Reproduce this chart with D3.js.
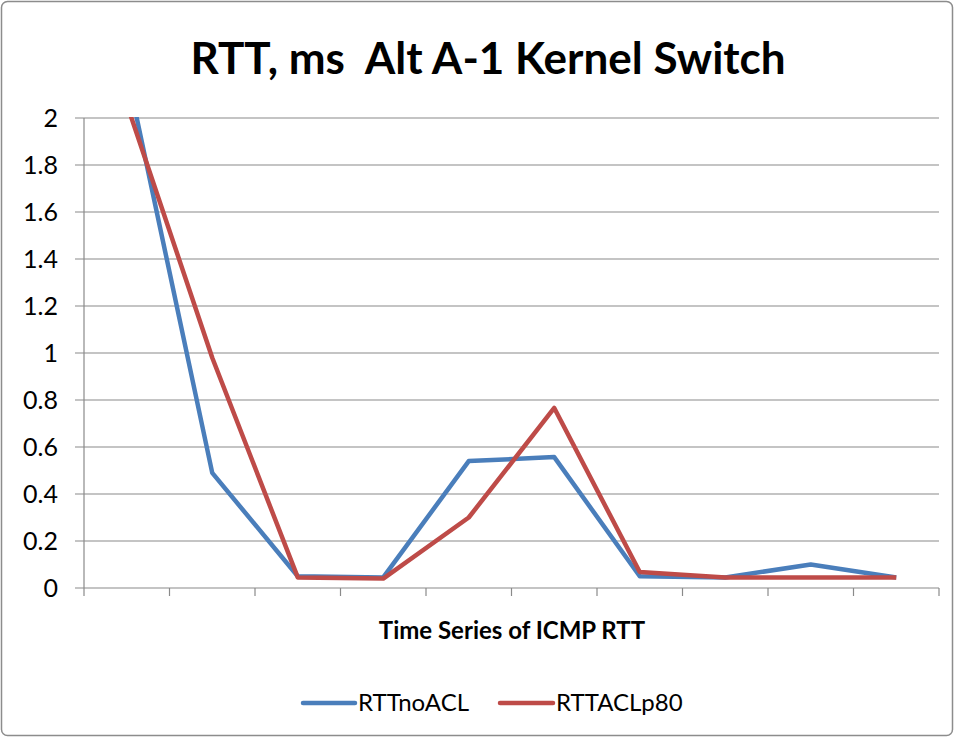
<!DOCTYPE html>
<html><head><meta charset="utf-8">
<script src="https://cdn.jsdelivr.net/npm/d3@7"></script>
<style>body{margin:0;background:#fff}svg{display:block}</style>
</head><body><svg id="c" width="955" height="738"></svg>
<script>
const categories = ["1","2","3","4","5","6","7","8","9","10"];
const rttNoACL   = [2.2, 0.49, 0.05, 0.045, 0.54, 0.557, 0.05, 0.045, 0.10, 0.045];
const rttACLp80  = [2.06, 0.98, 0.045, 0.04, 0.30, 0.766, 0.068, 0.045, 0.045, 0.045];
const yTicks = [0, 0.2, 0.4, 0.6, 0.8, 1, 1.2, 1.4, 1.6, 1.8, 2];
const seriesNames = ["RTTnoACL", "RTTACLp80"];
const colors = ["#4a7ebb", "#be4b48"];
const font = "Lato, 'Open Sans', sans-serif";

const svg = d3.select("#c");
svg.append("rect").attr("x",1.5).attr("y",1.5).attr("width",951).attr("height",734).attr("rx",6)
  .attr("fill","#fff").attr("stroke","#8c8c8c").attr("stroke-width",1.5);

const L=84, R=939, T=118, B=588;
const x = d3.scaleBand().domain(categories).range([L,R]);
const y = d3.scaleLinear().domain([0,2]).range([B,T]);

svg.append("g").selectAll("line").data(yTicks).join("line")
  .attr("x1",L-9).attr("x2",R).attr("y1",d=>y(d)).attr("y2",d=>y(d))
  .attr("stroke","#8a8a8a").attr("stroke-width",1.2);
svg.append("line").attr("x1",L).attr("x2",L).attr("y1",T).attr("y2",B).attr("stroke","#8a8a8a").attr("stroke-width",1.2);
const xt = categories.map(c=>x(c)).concat([R]);
svg.append("g").selectAll("line").data(xt).join("line")
  .attr("x1",d=>d).attr("x2",d=>d).attr("y1",B).attr("y2",B+8)
  .attr("stroke","#8a8a8a").attr("stroke-width",1.2);
svg.append("g").selectAll("text").data(yTicks).join("text")
  .attr("x",58).attr("y",d=>y(d)).attr("dy","0.35em").attr("text-anchor","end")
  .attr("font-family",font).attr("font-size",25).attr("fill","#000")
  .text(d=>d3.format("~g")(d));

svg.append("clipPath").attr("id","clip").append("rect").attr("x",L).attr("y",T-1).attr("width",R-L).attr("height",B-T+10);
const line = d3.line().x((d,i)=>x(categories[i])+x.bandwidth()/2).y(d=>y(d));
[rttNoACL, rttACLp80].forEach((s,i)=>{
  svg.append("path").attr("d",line(s)).attr("fill","none").attr("stroke",colors[i])
    .attr("stroke-width",4.5).attr("stroke-linejoin","round").attr("clip-path","url(#clip)");
});

svg.append("text").attr("x",488).attr("y",74).attr("text-anchor","middle")
  .attr("font-family",font).attr("font-weight","bold").attr("font-size",44)
  .style("white-space","pre").text("RTT, ms  Alt A-1 Kernel Switch");
svg.append("text").attr("x",512).attr("y",639).attr("text-anchor","middle")
  .attr("font-family",font).attr("font-weight","bold").attr("font-size",24)
  .text("Time Series of ICMP RTT");
const lg = [{x1:303,x2:355,tx:358},{x1:500,x2:553,tx:556}];
lg.forEach((p,i)=>{
  svg.append("line").attr("x1",p.x1).attr("x2",p.x2).attr("y1",703).attr("y2",703)
    .attr("stroke",colors[i]).attr("stroke-width",4.5).attr("stroke-linecap","round");
  svg.append("text").attr("x",p.tx).attr("y",703).attr("dy","0.35em")
    .attr("font-family",font).attr("font-size",24).text(seriesNames[i]);
});
</script></body></html>
